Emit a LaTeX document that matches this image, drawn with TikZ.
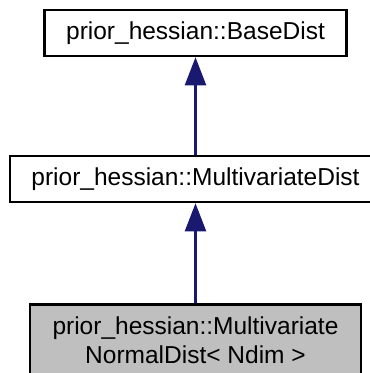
\documentclass[tikz,border=0pt]{standalone}
\usepackage{fontspec}
\setmainfont{Liberation Sans}
\usetikzlibrary{arrows.meta, positioning}
\definecolor{edgeblue}{HTML}{191970}

\begin{document}
\begin{tikzpicture}[x=1pt, y=-1pt,
  classbox/.style={draw=black, line width=2.5pt, fill=white, inner sep=0pt,
    align=center, font=\fontsize{24.5}{29}\selectfont},
  inherit/.style={draw=edgeblue, line width=2.2pt,
    -{Triangle[length=28pt, width=21pt, fill=edgeblue]}}]
  % Frame of the picture
  \useasboundingbox (0,0) rectangle (370,373);
  \clip (0,0) rectangle (370,373);

  % Classes
  \node[classbox, minimum width=302pt, minimum height=46pt] (base) at (195.5,33)
    {prior\_hessian::BaseDist};
  \node[classbox, minimum width=371pt, minimum height=46pt] (multi) at (195.5,179)
    {prior\_hessian::MultivariateDist};
  \node[classbox, fill=gray!50, minimum width=331pt, minimum height=72pt,
    anchor=north] (normal) at (195.5,303)
    {prior\_hessian::Multivariate\\NormalDist< Ndim >};

  % Inheritance
  \draw[inherit] (multi.north) -- (base.south);
  \draw[inherit] (normal.north) -- (multi.south);
\end{tikzpicture}
\end{document}
